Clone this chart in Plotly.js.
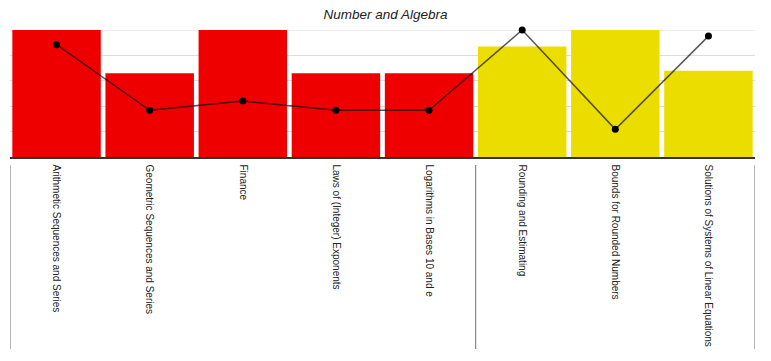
<!DOCTYPE html>
<html>
<head>
<meta charset="utf-8">
<script src="https://cdn.plot.ly/plotly-3.0.1.min.js"></script>
<style>html,body{margin:0;padding:0;background:#fff;}#chart{width:771px;height:361px;}</style>
</head>
<body>
<div id="chart"></div>
<script>
// ---- data ----
const categories = [
  "Arithmetic Sequences and Series",
  "Geometric Sequences and Series",
  "Finance",
  "Laws of (Integer) Exponents",
  "Logarithms in Bases 10 and e",
  "Rounding and Estimating",
  "Bounds for Rounded Numbers",
  "Solutions of Systems of Linear Equations"
];
const barValues  = [5.0, 3.3, 5.0, 3.3, 3.3, 4.35, 5.0, 3.4];
const lineValues = [4.42, 1.84, 2.2, 1.84, 1.84, 5.0, 1.09, 4.76];
const groups     = ["A", "A", "A", "A", "A", "B", "B", "B"];
const groupColors = {A: "#ef0000", B: "#ebdd00"};
const yMax = 5;

// ---- separators at group boundaries ----
const boundaries = [-0.5];
for (let i = 1; i < groups.length; i++) if (groups[i] !== groups[i-1]) boundaries.push(i - 0.5);
boundaries.push(groups.length - 0.5);
const shapes = boundaries.map(b => ({
  type: "line", xref: "x", yref: "paper",
  x0: b, x1: b, y0: -0.063, y1: -1.512,
  line: {color: "#888", width: 1.2}
}));
// top gridline (at the range maximum)
shapes.push({
  type: "line", xref: "paper", yref: "y", layer: "below",
  x0: 0, x1: 1, y0: yMax, y1: yMax,
  line: {color: "#dcdcdc", width: 1}
});

const traces = [
  {
    type: "bar", x: categories, y: barValues,
    marker: {color: groups.map(g => groupColors[g])},
    hoverinfo: "none"
  },
  {
    type: "scatter", mode: "lines+markers", x: categories, y: lineValues,
    line: {color: "rgba(0,0,0,0.65)", width: 1.5},
    marker: {color: "#000", size: 7},
    cliponaxis: false,
    hoverinfo: "none"
  }
];

const layout = {
  width: 771, height: 361,
  margin: {l: 10, r: 16, t: 30, b: 204},
  paper_bgcolor: "#fff", plot_bgcolor: "#fff",
  showlegend: false,
  bargap: 0.05,
  font: {family: "Liberation Sans, Arial, sans-serif", color: "#222"},
  title: {text: "<i>Number and Algebra</i>", font: {size: 13.5, color: "#222"}, x: 0.5, xanchor: "center", y: 0.96, yanchor: "middle"},
  xaxis: {
    type: "category", range: [-0.5, 7.5],
    tickangle: 90, tickfont: {size: 10, color: "#222"},
    showline: true, linecolor: "#333", linewidth: 1.5,
    showgrid: false, ticks: "", ticklabelstandoff: 4, fixedrange: true
  },
  yaxis: {
    range: [0, yMax], dtick: 1, showticklabels: false,
    gridcolor: "#dcdcdc", gridwidth: 1, zeroline: false, showline: false, fixedrange: true
  },
  shapes: shapes
};

Plotly.newPlot("chart", traces, layout, {displayModeBar: false, staticPlot: true});
</script>
</body>
</html>
